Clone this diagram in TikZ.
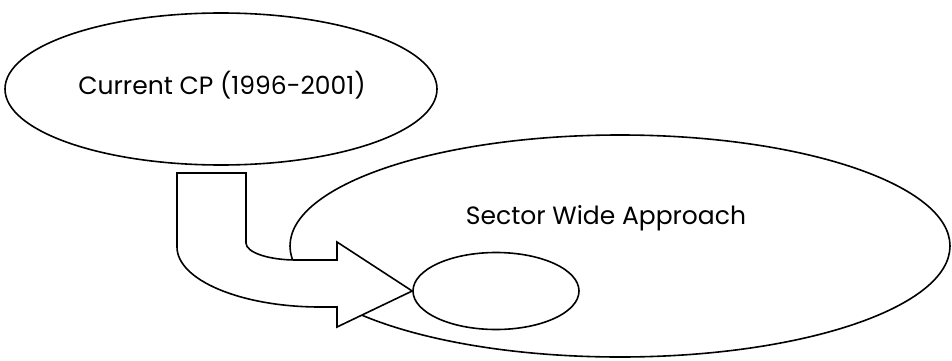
\documentclass[tikz,border=0pt]{standalone}
\usepackage{fontspec}
\setmainfont{Poppins}
\usetikzlibrary{shapes.geometric}
\tikzset{
  oval/.style={ellipse, draw=black, line width=1.6pt, fill=white, inner sep=0pt},
  label text/.style={font=\fontsize{25}{29}\selectfont, text=black, anchor=base, inner sep=0pt},
  blockarrow/.style={draw=black, line width=1.6pt, fill=white, line join=miter}
}
\begin{document}
\begin{tikzpicture}[x=1pt,y=-1pt]
\useasboundingbox (0,0) rectangle (952,361);
% Current CP ellipse
\node[oval, minimum width=432pt, minimum height=152pt] (cp) at (221,89) {};
\node[label text] (cptext) at (222,94) {Current CP (1996-2001)};
% Sector wide approach ellipse
\node[oval, minimum width=660pt, minimum height=222pt] (swa) at (620,246) {};
\node[label text] (swatext) at (606,224) {Sector Wide Approach};
% small ellipse
\node[oval, minimum width=166pt, minimum height=77pt] (small) at (496,291) {};
% bent block arrow
\draw[blockarrow] (177,173) -- (246,173) -- (246,243)
  .. controls (246,252.4) and (268.4,260) .. (296,260)
  -- (337,260) -- (337,242) -- (small.west) -- (337,327) -- (337,307)
  -- (320,307) .. controls (241,307) and (177,280) .. (177,247) -- cycle;
\end{tikzpicture}
\end{document}
